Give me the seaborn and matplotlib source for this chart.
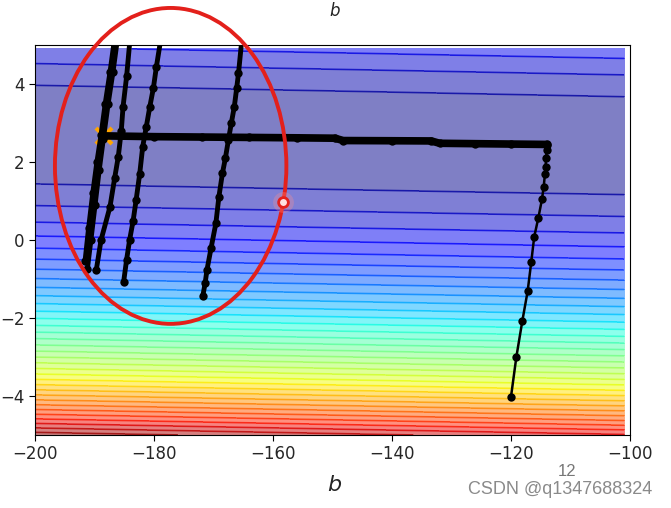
import numpy as np
import pandas as pd
import matplotlib
matplotlib.use("Agg")
import matplotlib.pyplot as plt
from matplotlib.patches import Ellipse
import seaborn as sns

# ---- data ----
x_data = [338., 333., 328., 207., 226., 25., 179., 60., 208., 606.]
y_data = [640., 633., 619., 393., 428., 27., 193., 66., 226., 1591.]
b_grid = np.arange(-200, -100, 1)
w_grid = np.arange(-5, 5, 0.1)

# main trajectory (climb then slow drift left)
main_b = [-120.0, -119.1, -118.1, -117.2, -116.6, -116.1, -115.4, -114.8, -114.5, -114.3, -114.2, -114.1, -114.0, -113.9]
main_w = [-4.02, -3.0, -2.08, -1.31, -0.57, 0.08, 0.57, 1.04, 1.37, 1.69, 1.88, 2.1, 2.3, 2.44]
flat_b = [-113.9, -120.0, -126.0, -132.0, -133.4, -140.0, -148.2, -149.6, -156.0, -164.0, -172.0, -180.0, -188.4]
flat_w = [2.45, 2.46, 2.47, 2.48, 2.54, 2.545, 2.55, 2.61, 2.62, 2.63, 2.64, 2.65, 2.67]

# oscillating branches
a1_b = [-191.6, -191.0, -190.3, -189.6, -188.9, -188.2, -187.4, -186.6]
a1_w = [-0.55, 0.3, 1.2, 2.0, 2.7, 3.5, 4.3, 5.2]
a2_b = [-191.2, -190.6, -189.9, -189.2, -188.5, -187.7, -186.9, -186.1]
a2_w = [-0.75, 0.0, 0.9, 1.8, 2.6, 3.5, 4.3, 5.2]
bb_b = [-189.7, -188.9, -187.4, -186.6, -186.0, -185.5, -185.2, -184.6, -184.0]
bb_w = [-0.77, 0.0, 0.85, 1.6, 2.14, 2.8, 3.42, 4.2, 5.2]
c_b = [-185.1, -184.6, -184.1, -183.5, -183.0, -182.4, -181.9, -181.3, -180.7, -180.1, -179.6, -178.8]
c_w = [-1.07, -0.5, 0.0, 0.5, 1.03, 1.7, 2.39, 2.9, 3.42, 3.9, 4.44, 5.2]
d_b = [-171.8, -171.4, -171.1, -170.4, -169.6, -169.1, -168.5, -168.0, -167.5, -167.0, -166.5, -166.1, -165.8, -165.2]
d_w = [-1.44, -1.1, -0.77, -0.2, 0.43, 1.1, 1.71, 2.1, 2.56, 3.0, 3.42, 3.9, 4.27, 5.2]

target = (-188.4, 2.67)
red_point = (-158.4, 0.97)
xticks = [-200, -180, -160, -140, -120, -100]
yticks = [-4, -2, 0, 2, 4]

# ---- figure ----
sns.set_style("ticks")
plt.rcParams['font.family'] = ['DejaVu Sans']
fig = plt.figure(figsize=(6.71, 5.08), dpi=100)
ax = fig.add_axes([35/671, 73/508, 595/671, 390/508])

xd = np.array(x_data); yd = np.array(y_data)
B, W = np.meshgrid(b_grid, w_grid)
Z = np.mean((yd[None, None, :] - B[..., None] - W[..., None] * xd[None, None, :]) ** 2, axis=-1)
ax.contourf(b_grid, w_grid, Z, 50, alpha=0.5, cmap=plt.get_cmap('jet'))
ax.contour(b_grid, w_grid, Z, 50, alpha=0.6, cmap=plt.get_cmap('jet'), linewidths=1.3)

ax.plot([target[0]], [target[1]], 'x', ms=12, markeredgewidth=3, color='orange', zorder=3)

def traj(bs, ws, lw=1.5, ms=5):
    df = pd.DataFrame({'b': bs, 'w': ws})
    sns.lineplot(data=df, x='b', y='w', sort=False, estimator=None, ax=ax,
                 color='black', lw=lw, marker='o', markersize=ms,
                 markeredgewidth=0, zorder=4)

traj(main_b, main_w, lw=1.8, ms=6)
traj(flat_b, flat_w, lw=5.5, ms=6)
for bs, ws in [(a1_b, a1_w), (a2_b, a2_w), (bb_b, bb_w), (c_b, c_w), (d_b, d_w)]:
    traj(bs, ws, lw=3.5, ms=6)

ell = Ellipse((-177.2, 1.90), 38.9, 8.1, fill=False, edgecolor='#e3201b', lw=2.8,
              clip_on=False, zorder=6)
ax.add_patch(ell)
ax.plot([red_point[0]], [red_point[1]], 'o', ms=15, color='#ff9090', alpha=0.3,
        markeredgewidth=0, zorder=6)
ax.plot([red_point[0]], [red_point[1]], 'o', ms=7, markerfacecolor='#ffe0e0',
        markeredgecolor='#e3201b', markeredgewidth=2, zorder=7)

ax.set_xlim(-200, -100)
ax.set_ylim(-5, 5)
ax.set_xticks(xticks)
ax.set_yticks(yticks)
ax.tick_params(labelsize=12, length=4, color='black')
ax.set_xlabel('')
ax.set_ylabel('')
for s in ax.spines.values():
    s.set_color('black')
    s.set_visible(True)

fig.text(335/671, 1 - 11/508, '$b$', fontsize=12, ha='center', va='center')
fig.text(335/671, 1 - 485/508, '$b$', fontsize=16, ha='center', va='center')
fig.text(567/671, 1 - 471/508, '12', fontsize=12, color='#777777', ha='center', va='center',
         family=['Liberation Sans'])
fig.text(560/671, 1 - 490/508, 'CSDN @q1347688324', fontsize=13, color='#8a8a8a',
         ha='center', va='center', family=['Liberation Sans'])

fig.savefig('out.png', dpi=100)
